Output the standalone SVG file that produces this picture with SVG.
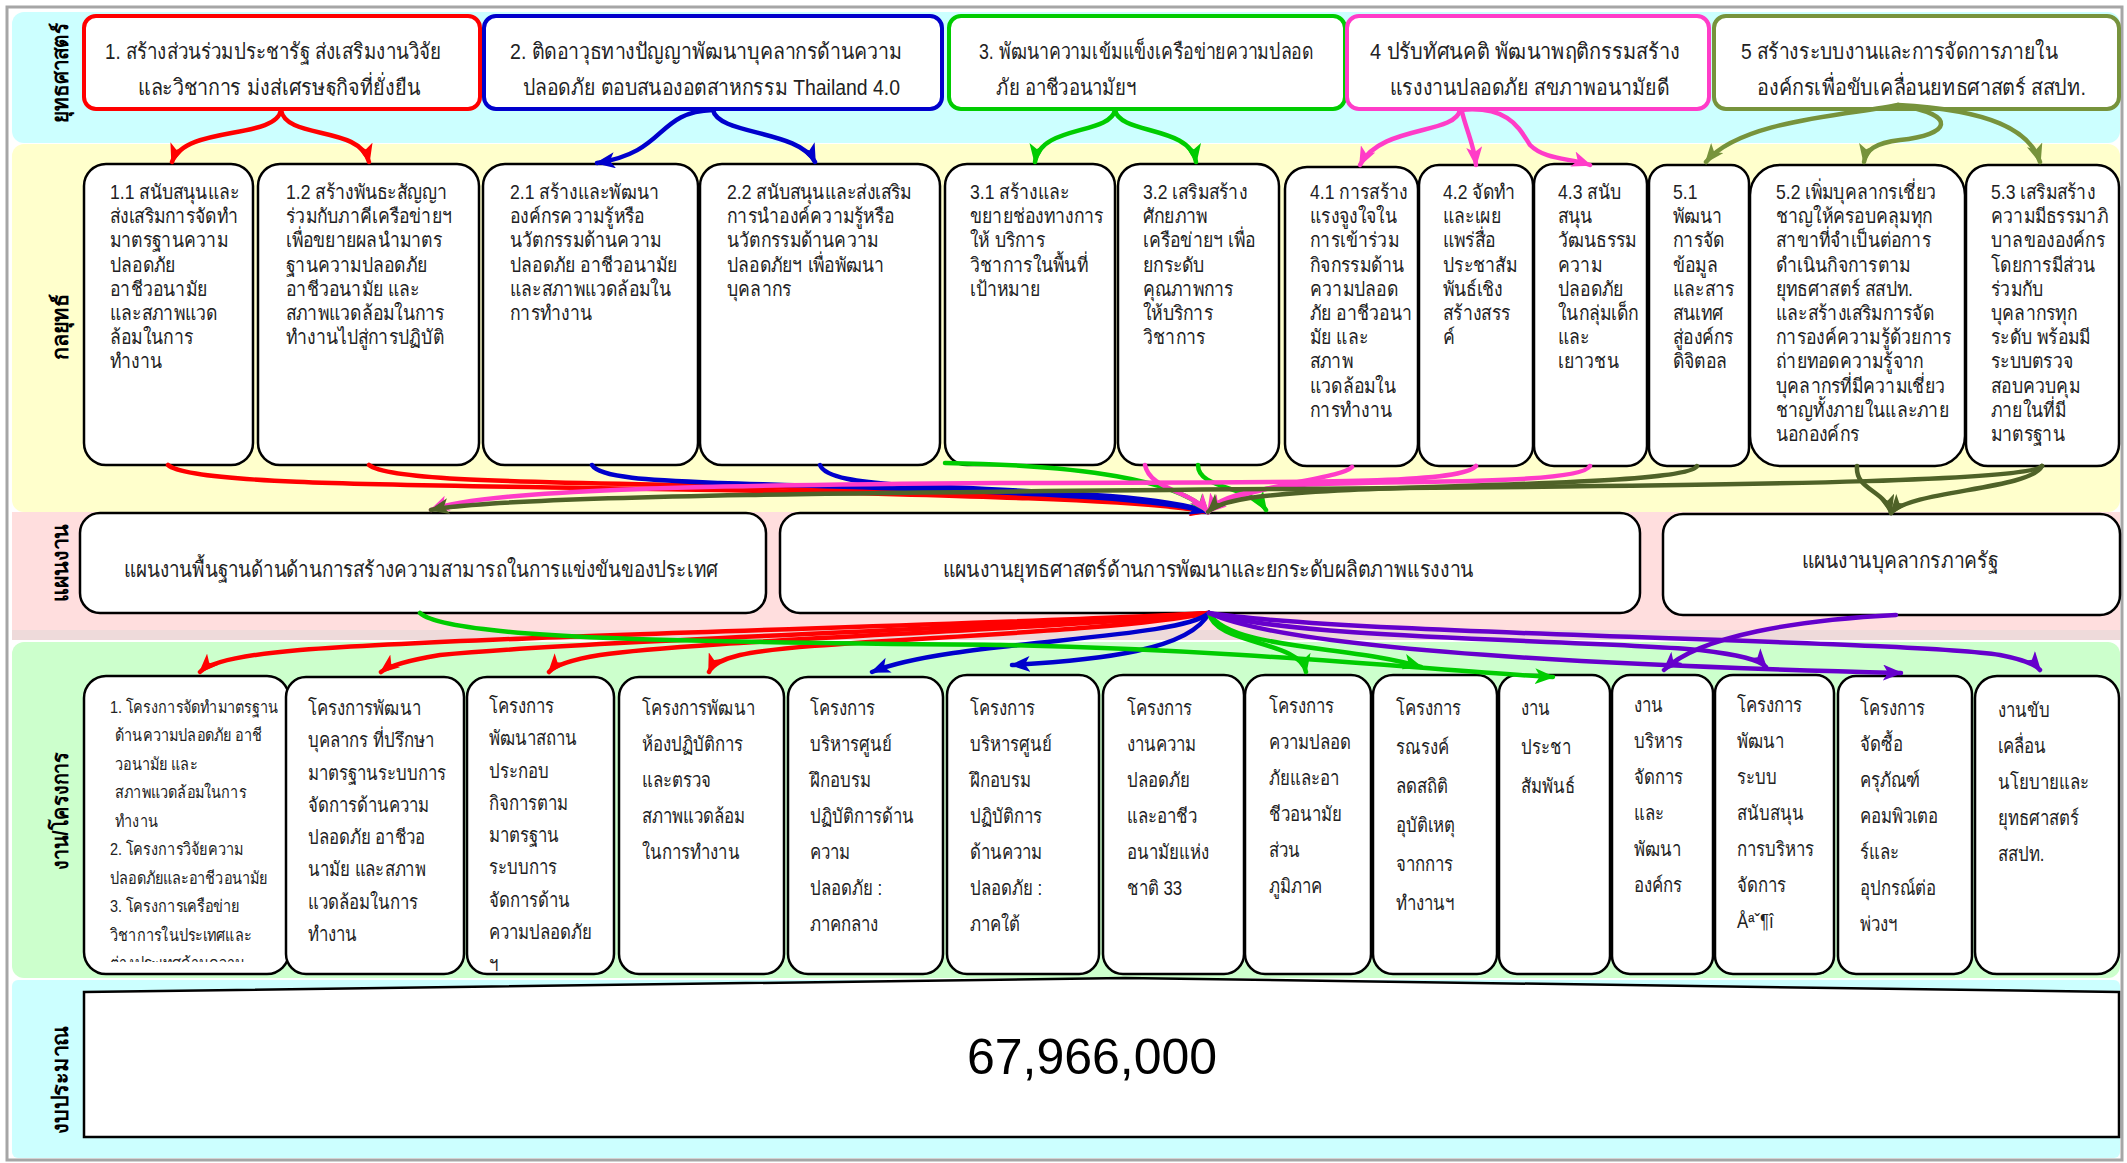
<svg xmlns="http://www.w3.org/2000/svg" width="2127" height="1163" viewBox="0 0 2127 1163">
<style>
text{font-family:"Liberation Sans",sans-serif;fill:#222}
.lbl{font-size:22px;font-weight:bold;fill:#000}
.st{font-size:22px}
.gs{font-size:20px}
.pl{font-size:22px}
.pj{font-size:20px}
.p1{font-size:17px}
.box{fill:#fff;stroke:#000;stroke-width:2.5}
.c{fill:none;stroke-width:4.5;stroke-linecap:round}
.r{stroke:#FF0000}.b{stroke:#0000CC}.g{stroke:#00CC00}.k{stroke:#FF3CC8}.o{stroke:#77933C}.d{stroke:#4F6228}.v{stroke:#6600CC}
</style>
<defs>
<marker id="mr" markerUnits="userSpaceOnUse" markerWidth="20" markerHeight="16" refX="18" refY="8" orient="auto"><path d="M0,0 L20,8 L0,16 L5,8 z" fill="#FF0000"/></marker>
<marker id="mb" markerUnits="userSpaceOnUse" markerWidth="20" markerHeight="16" refX="18" refY="8" orient="auto"><path d="M0,0 L20,8 L0,16 L5,8 z" fill="#0000CC"/></marker>
<marker id="mg" markerUnits="userSpaceOnUse" markerWidth="20" markerHeight="16" refX="18" refY="8" orient="auto"><path d="M0,0 L20,8 L0,16 L5,8 z" fill="#00CC00"/></marker>
<marker id="mk" markerUnits="userSpaceOnUse" markerWidth="20" markerHeight="16" refX="18" refY="8" orient="auto"><path d="M0,0 L20,8 L0,16 L5,8 z" fill="#FF3CC8"/></marker>
<marker id="mo" markerUnits="userSpaceOnUse" markerWidth="20" markerHeight="16" refX="18" refY="8" orient="auto"><path d="M0,0 L20,8 L0,16 L5,8 z" fill="#77933C"/></marker>
<marker id="md" markerUnits="userSpaceOnUse" markerWidth="20" markerHeight="16" refX="18" refY="8" orient="auto"><path d="M0,0 L20,8 L0,16 L5,8 z" fill="#4F6228"/></marker>
<marker id="mv" markerUnits="userSpaceOnUse" markerWidth="20" markerHeight="16" refX="18" refY="8" orient="auto"><path d="M0,0 L20,8 L0,16 L5,8 z" fill="#6600CC"/></marker>
<clipPath id="cs"><rect x="80" y="14" width="2045" height="82"/></clipPath>
<clipPath id="cp1"><rect x="84" y="676" width="205" height="286"/></clipPath>
</defs>

<!-- frame and bands -->
<rect x="7" y="7" width="2115" height="1153" fill="#fff" stroke="#A6A6A6" stroke-width="3"/>
<rect x="12" y="12" width="2108" height="131" rx="12" fill="#CCFFFF"/>
<rect x="12" y="144" width="2108" height="368" rx="12" fill="#FFFFCC"/>
<rect x="12" y="512" width="2108" height="128" fill="#FFDEDE"/>
<rect x="12" y="630" width="2108" height="10" fill="#EEDADA"/>
<rect x="12" y="642" width="2108" height="336" rx="12" fill="#CCFFCC"/>
<rect x="12" y="980" width="2108" height="178" rx="6" fill="#CCFFFF"/>

<!-- row labels -->
<g id="labels">
<text class="lbl" transform="translate(68,73) rotate(-90)" text-anchor="middle" textLength="100" lengthAdjust="spacingAndGlyphs">ยุทธศาสตร์</text>
<text class="lbl" transform="translate(68,327) rotate(-90)" text-anchor="middle" textLength="66" lengthAdjust="spacingAndGlyphs">กลยุทธ์</text>
<text class="lbl" transform="translate(68,563) rotate(-90)" text-anchor="middle" textLength="78" lengthAdjust="spacingAndGlyphs">แผนงาน</text>
<text class="lbl" transform="translate(68,811) rotate(-90)" text-anchor="middle" textLength="118" lengthAdjust="spacingAndGlyphs">งาน/โครงการ</text>
<text class="lbl" transform="translate(68,1080) rotate(-90)" text-anchor="middle" textLength="108" lengthAdjust="spacingAndGlyphs">งบประมาณ</text>
</g>

<!-- strategies -->
<g id="strategy1"><rect x="84" y="16" width="396" height="93" rx="12" fill="#fff" stroke="#FF0000" stroke-width="4"/>
<g clip-path="url(#cs)"><text class="st" x="105" y="59" textLength="336" lengthAdjust="spacingAndGlyphs">1. สร้างส่วนร่วมประชารัฐ ส่งเสริมงานวิจัย</text><text class="st" x="138" y="95" textLength="282" lengthAdjust="spacingAndGlyphs">และวิชาการ มุ่งสู่เศรษฐกิจที่ยั่งยืน</text></g></g>
<g id="strategy2"><rect x="484" y="16" width="458" height="93" rx="12" fill="#fff" stroke="#0000CC" stroke-width="4"/>
<g clip-path="url(#cs)"><text class="st" x="510" y="59" textLength="392" lengthAdjust="spacingAndGlyphs">2. ติดอาวุธทางปัญญาพัฒนาบุคลากรด้านความ</text><text class="st" x="523" y="95" textLength="377" lengthAdjust="spacingAndGlyphs">ปลอดภัย ตอบสนองอุตสาหกรรม Thailand 4.0</text></g></g>
<g id="strategy3"><rect x="949" y="16" width="396" height="93" rx="12" fill="#fff" stroke="#00CC00" stroke-width="4"/>
<g clip-path="url(#cs)"><text class="st" x="979" y="59" textLength="334" lengthAdjust="spacingAndGlyphs">3. พัฒนาความเข้มแข็งเครือข่ายความปลอด</text><text class="st" x="996" y="95" textLength="140" lengthAdjust="spacingAndGlyphs">ภัย อาชีวอนามัยฯ</text></g></g>
<g id="strategy4"><rect x="1347" y="16" width="362" height="93" rx="12" fill="#fff" stroke="#FF3CC8" stroke-width="4"/>
<g clip-path="url(#cs)"><text class="st" x="1370" y="59" textLength="310" lengthAdjust="spacingAndGlyphs">4 ปรับทัศนคติ พัฒนาพฤติกรรมสร้าง</text><text class="st" x="1390" y="95" textLength="279" lengthAdjust="spacingAndGlyphs">แรงงานปลอดภัย สุขภาพอนามัยดี</text></g></g>
<g id="strategy5"><rect x="1714" y="16" width="405" height="93" rx="12" fill="#fff" stroke="#77933C" stroke-width="4"/>
<g clip-path="url(#cs)"><text class="st" x="1741" y="59" textLength="317" lengthAdjust="spacingAndGlyphs">5 สร้างระบบงานและการจัดการภายใน</text><text class="st" x="1757" y="95" textLength="329" lengthAdjust="spacingAndGlyphs">องค์กรเพื่อขับเคลื่อนยุทธศาสตร์ สสปท.</text></g></g>

<!-- tactics -->
<g id="tactic11"><rect class="box" x="84" y="164" width="169" height="301" rx="22"/>
<text class="gs" transform="translate(110,0) scale(0.88,1)"><tspan x="0" y="199">1.1 สนับสนุนและ</tspan><tspan x="0" dy="24.2">ส่งเสริมการจัดทำ</tspan><tspan x="0" dy="24.2">มาตรฐานความ</tspan><tspan x="0" dy="24.2">ปลอดภัย</tspan><tspan x="0" dy="24.2">อาชีวอนามัย</tspan><tspan x="0" dy="24.2">และสภาพแวด</tspan><tspan x="0" dy="24.2">ล้อมในการ</tspan><tspan x="0" dy="24.2">ทำงาน</tspan></text></g>
<g id="tactic12"><rect class="box" x="258" y="164" width="221" height="301" rx="22"/>
<text class="gs" transform="translate(286,0) scale(0.88,1)"><tspan x="0" y="199">1.2 สร้างพันธะสัญญา</tspan><tspan x="0" dy="24.2">ร่วมกับภาคีเครือข่ายฯ</tspan><tspan x="0" dy="24.2">เพื่อขยายผลนำมาตร</tspan><tspan x="0" dy="24.2">ฐานความปลอดภัย</tspan><tspan x="0" dy="24.2">อาชีวอนามัย และ</tspan><tspan x="0" dy="24.2">สภาพแวดล้อมในการ</tspan><tspan x="0" dy="24.2">ทำงานไปสู่การปฏิบัติ</tspan></text></g>
<g id="tactic21"><rect class="box" x="483" y="164" width="215" height="301" rx="22"/>
<text class="gs" transform="translate(510,0) scale(0.88,1)"><tspan x="0" y="199">2.1 สร้างและพัฒนา</tspan><tspan x="0" dy="24.2">องค์กรความรู้หรือ</tspan><tspan x="0" dy="24.2">นวัตกรรมด้านความ</tspan><tspan x="0" dy="24.2">ปลอดภัย อาชีวอนามัย</tspan><tspan x="0" dy="24.2">และสภาพแวดล้อมใน</tspan><tspan x="0" dy="24.2">การทำงาน</tspan></text></g>
<g id="tactic22"><rect class="box" x="700" y="164" width="240" height="301" rx="22"/>
<text class="gs" transform="translate(727,0) scale(0.88,1)"><tspan x="0" y="199">2.2 สนับสนุนและส่งเสริม</tspan><tspan x="0" dy="24.2">การนำองค์ความรู้หรือ</tspan><tspan x="0" dy="24.2">นวัตกรรมด้านความ</tspan><tspan x="0" dy="24.2">ปลอดภัยฯ เพื่อพัฒนา</tspan><tspan x="0" dy="24.2">บุคลากร</tspan></text></g>
<g id="tactic31"><rect class="box" x="945" y="164" width="170" height="301" rx="22"/>
<text class="gs" transform="translate(970,0) scale(0.88,1)"><tspan x="0" y="199">3.1 สร้างและ</tspan><tspan x="0" dy="24.2">ขยายช่องทางการ</tspan><tspan x="0" dy="24.2">ให้ บริการ</tspan><tspan x="0" dy="24.2">วิชาการในพื้นที่</tspan><tspan x="0" dy="24.2">เป้าหมาย</tspan></text></g>
<g id="tactic32"><rect class="box" x="1118" y="164" width="161" height="301" rx="22"/>
<text class="gs" transform="translate(1143,0) scale(0.88,1)"><tspan x="0" y="199">3.2 เสริมสร้าง</tspan><tspan x="0" dy="24.2">ศักยภาพ</tspan><tspan x="0" dy="24.2">เครือข่ายฯ เพื่อ</tspan><tspan x="0" dy="24.2">ยกระดับ</tspan><tspan x="0" dy="24.2">คุณภาพการ</tspan><tspan x="0" dy="24.2">ให้บริการ</tspan><tspan x="0" dy="24.2">วิชาการ</tspan></text></g>
<g id="tactic41"><rect class="box" x="1285" y="167" width="133" height="299" rx="22"/>
<text class="gs" transform="translate(1310,0) scale(0.88,1)"><tspan x="0" y="199">4.1 การสร้าง</tspan><tspan x="0" dy="24.2">แรงจูงใจใน</tspan><tspan x="0" dy="24.2">การเข้าร่วม</tspan><tspan x="0" dy="24.2">กิจกรรมด้าน</tspan><tspan x="0" dy="24.2">ความปลอด</tspan><tspan x="0" dy="24.2">ภัย อาชีวอนา</tspan><tspan x="0" dy="24.2">มัย และ</tspan><tspan x="0" dy="24.2">สภาพ</tspan><tspan x="0" dy="24.2">แวดล้อมใน</tspan><tspan x="0" dy="24.2">การทำงาน</tspan></text></g>
<g id="tactic42"><rect class="box" x="1419" y="165" width="114" height="301" rx="20"/>
<text class="gs" transform="translate(1443,0) scale(0.88,1)"><tspan x="0" y="199">4.2 จัดทำ</tspan><tspan x="0" dy="24.2">และเผย</tspan><tspan x="0" dy="24.2">แพร่สื่อ</tspan><tspan x="0" dy="24.2">ประชาสัม</tspan><tspan x="0" dy="24.2">พันธ์เชิง</tspan><tspan x="0" dy="24.2">สร้างสรร</tspan><tspan x="0" dy="24.2">ค์</tspan></text></g>
<g id="tactic43"><rect class="box" x="1534" y="164" width="113" height="302" rx="20"/>
<text class="gs" transform="translate(1558,0) scale(0.88,1)"><tspan x="0" y="199">4.3 สนับ</tspan><tspan x="0" dy="24.2">สนุน</tspan><tspan x="0" dy="24.2">วัฒนธรรม</tspan><tspan x="0" dy="24.2">ความ</tspan><tspan x="0" dy="24.2">ปลอดภัย</tspan><tspan x="0" dy="24.2">ในกลุ่มเด็ก</tspan><tspan x="0" dy="24.2">และ</tspan><tspan x="0" dy="24.2">เยาวชน</tspan></text></g>
<g id="tactic51"><rect class="box" x="1649" y="165" width="100" height="301" rx="18"/>
<text class="gs" transform="translate(1673,0) scale(0.88,1)"><tspan x="0" y="199">5.1</tspan><tspan x="0" dy="24.2">พัฒนา</tspan><tspan x="0" dy="24.2">การจัด</tspan><tspan x="0" dy="24.2">ข้อมูล</tspan><tspan x="0" dy="24.2">และสาร</tspan><tspan x="0" dy="24.2">สนเทศ</tspan><tspan x="0" dy="24.2">สู่องค์กร</tspan><tspan x="0" dy="24.2">ดิจิตอล</tspan></text></g>
<g id="tactic52"><rect class="box" x="1750" y="165" width="215" height="301" rx="30"/>
<text class="gs" transform="translate(1776,0) scale(0.88,1)"><tspan x="0" y="199">5.2 เพิ่มบุคลากรเชี่ยว</tspan><tspan x="0" dy="24.2">ชาญให้ครอบคลุมทุก</tspan><tspan x="0" dy="24.2">สาขาที่จำเป็นต่อการ</tspan><tspan x="0" dy="24.2">ดำเนินกิจการตาม</tspan><tspan x="0" dy="24.2">ยุทธศาสตร์ สสปท.</tspan><tspan x="0" dy="24.2">และสร้างเสริมการจัด</tspan><tspan x="0" dy="24.2">การองค์ความรู้ด้วยการ</tspan><tspan x="0" dy="24.2">ถ่ายทอดความรู้จาก</tspan><tspan x="0" dy="24.2">บุคลากรที่มีความเชี่ยว</tspan><tspan x="0" dy="24.2">ชาญทั้งภายในและภาย</tspan><tspan x="0" dy="24.2">นอกองค์กร</tspan></text></g>
<g id="tactic53"><rect class="box" x="1966" y="165" width="153" height="301" rx="22"/>
<text class="gs" transform="translate(1991,0) scale(0.88,1)"><tspan x="0" y="199">5.3 เสริมสร้าง</tspan><tspan x="0" dy="24.2">ความมีธรรมาภิ</tspan><tspan x="0" dy="24.2">บาลขององค์กร</tspan><tspan x="0" dy="24.2">โดยการมีส่วน</tspan><tspan x="0" dy="24.2">ร่วมกับ</tspan><tspan x="0" dy="24.2">บุคลากรทุก</tspan><tspan x="0" dy="24.2">ระดับ พร้อมมี</tspan><tspan x="0" dy="24.2">ระบบตรวจ</tspan><tspan x="0" dy="24.2">สอบควบคุม</tspan><tspan x="0" dy="24.2">ภายในที่มี</tspan><tspan x="0" dy="24.2">มาตรฐาน</tspan></text></g>

<!-- plans -->
<g id="planA"><rect class="box" x="80" y="513" width="686" height="100" rx="20"/><text class="pl" x="421" y="577" text-anchor="middle" textLength="595" lengthAdjust="spacingAndGlyphs">แผนงานพื้นฐานด้านด้านการสร้างความสามารถในการแข่งขันของประเทศ</text></g>
<g id="planB"><rect class="box" x="780" y="513" width="860" height="100" rx="20"/><text class="pl" x="1208" y="577" text-anchor="middle" textLength="531" lengthAdjust="spacingAndGlyphs">แผนงานยุทธศาสตร์ด้านการพัฒนาและยกระดับผลิตภาพแรงงาน</text></g>
<g id="planC"><rect class="box" x="1663" y="514" width="457" height="101" rx="20"/><text class="pl" x="1900" y="568" text-anchor="middle" textLength="197" lengthAdjust="spacingAndGlyphs">แผนงานบุคลากรภาครัฐ</text></g>

<!-- projects -->
<g id="proj1"><rect class="box" x="84" y="676" width="205" height="298" rx="22"/>
<g clip-path="url(#cp1)"><text class="p1" transform="translate(110,0) scale(0.85,1)"><tspan x="0" y="713">1. โครงการจัดทำมาตรฐาน</tspan><tspan x="6" dy="28.5">ด้านความปลอดภัย อาชี</tspan><tspan x="6" dy="28.5">วอนามัย และ</tspan><tspan x="6" dy="28.5">สภาพแวดล้อมในการ</tspan><tspan x="6" dy="28.5">ทำงาน</tspan><tspan x="0" dy="28.5">2. โครงการวิจัยความ</tspan><tspan x="0" dy="28.5">ปลอดภัยและอาชีวอนามัย</tspan><tspan x="0" dy="28.5">3. โครงการเครือข่าย</tspan><tspan x="0" dy="28.5">วิชาการในประเทศและ</tspan><tspan x="0" dy="28.5">ต่างประเทศด้านความ</tspan></text></g></g>
<g id="proj2"><rect class="box" x="286" y="677" width="178" height="297" rx="20"/>
<text class="pj" transform="translate(308,0) scale(0.84,1)"><tspan x="0" y="715">โครงการพัฒนา</tspan><tspan x="0" dy="32.3">บุคลากร ที่ปรึกษา</tspan><tspan x="0" dy="32.3">มาตรฐานระบบการ</tspan><tspan x="0" dy="32.3">จัดการด้านความ</tspan><tspan x="0" dy="32.3">ปลอดภัย อาชีวอ</tspan><tspan x="0" dy="32.3">นามัย และสภาพ</tspan><tspan x="0" dy="32.3">แวดล้อมในการ</tspan><tspan x="0" dy="32.3">ทำงาน</tspan></text></g>
<g id="proj3"><rect class="box" x="467" y="677" width="147" height="297" rx="20"/>
<text class="pj" transform="translate(489,0) scale(0.84,1)"><tspan x="0" y="713">โครงการ</tspan><tspan x="0" dy="32.3">พัฒนาสถาน</tspan><tspan x="0" dy="32.3">ประกอบ</tspan><tspan x="0" dy="32.3">กิจการตาม</tspan><tspan x="0" dy="32.3">มาตรฐาน</tspan><tspan x="0" dy="32.3">ระบบการ</tspan><tspan x="0" dy="32.3">จัดการด้าน</tspan><tspan x="0" dy="32.3">ความปลอดภัย</tspan><tspan x="0" dy="32.3">ฯ</tspan></text></g>
<g id="proj4"><rect class="box" x="619" y="677" width="165" height="297" rx="20"/>
<text class="pj" transform="translate(642,0) scale(0.84,1)"><tspan x="0" y="715">โครงการพัฒนา</tspan><tspan x="0" dy="36">ห้องปฏิบัติการ</tspan><tspan x="0" dy="36">และตรวจ</tspan><tspan x="0" dy="36">สภาพแวดล้อม</tspan><tspan x="0" dy="36">ในการทำงาน</tspan></text></g>
<g id="proj5"><rect class="box" x="788" y="677" width="155" height="297" rx="20"/>
<text class="pj" transform="translate(810,0) scale(0.84,1)"><tspan x="0" y="715">โครงการ</tspan><tspan x="0" dy="36">บริหารศูนย์</tspan><tspan x="0" dy="36">ฝึกอบรม</tspan><tspan x="0" dy="36">ปฏิบัติการด้าน</tspan><tspan x="0" dy="36">ความ</tspan><tspan x="0" dy="36">ปลอดภัย  :</tspan><tspan x="0" dy="36">ภาคกลาง</tspan></text></g>
<g id="proj6"><rect class="box" x="947" y="675" width="152" height="299" rx="20"/>
<text class="pj" transform="translate(970,0) scale(0.84,1)"><tspan x="0" y="715">โครงการ</tspan><tspan x="0" dy="36">บริหารศูนย์</tspan><tspan x="0" dy="36">ฝึกอบรม</tspan><tspan x="0" dy="36">ปฏิบัติการ</tspan><tspan x="0" dy="36">ด้านความ</tspan><tspan x="0" dy="36">ปลอดภัย :</tspan><tspan x="0" dy="36">ภาคใต้</tspan></text></g>
<g id="proj7"><rect class="box" x="1103" y="675" width="141" height="299" rx="20"/>
<text class="pj" transform="translate(1127,0) scale(0.84,1)"><tspan x="0" y="715">โครงการ</tspan><tspan x="0" dy="36">งานความ</tspan><tspan x="0" dy="36">ปลอดภัย</tspan><tspan x="0" dy="36">และอาชีว</tspan><tspan x="0" dy="36">อนามัยแห่ง</tspan><tspan x="0" dy="36">ชาติ 33</tspan></text></g>
<g id="proj8"><rect class="box" x="1245" y="675" width="126" height="299" rx="20"/>
<text class="pj" transform="translate(1269,0) scale(0.84,1)"><tspan x="0" y="713">โครงการ</tspan><tspan x="0" dy="36">ความปลอด</tspan><tspan x="0" dy="36">ภัยและอา</tspan><tspan x="0" dy="36">ชีวอนามัย</tspan><tspan x="0" dy="36">ส่วน</tspan><tspan x="0" dy="36">ภูมิภาค</tspan></text></g>
<g id="proj9"><rect class="box" x="1373" y="675" width="124" height="299" rx="20"/>
<text class="pj" transform="translate(1396,0) scale(0.84,1)"><tspan x="0" y="715">โครงการ</tspan><tspan x="0" dy="39">รณรงค์</tspan><tspan x="0" dy="39">ลดสถิติ</tspan><tspan x="0" dy="39">อุบัติเหตุ</tspan><tspan x="0" dy="39">จากการ</tspan><tspan x="0" dy="39">ทำงานฯ</tspan></text></g>
<g id="proj10"><rect class="box" x="1499" y="675" width="111" height="299" rx="18"/>
<text class="pj" transform="translate(1521,0) scale(0.84,1)"><tspan x="0" y="715">งาน</tspan><tspan x="0" dy="39">ประชา</tspan><tspan x="0" dy="39">สัมพันธ์</tspan></text></g>
<g id="proj11"><rect class="box" x="1612" y="675" width="101" height="299" rx="18"/>
<text class="pj" transform="translate(1634,0) scale(0.84,1)"><tspan x="0" y="712">งาน</tspan><tspan x="0" dy="36">บริหาร</tspan><tspan x="0" dy="36">จัดการ</tspan><tspan x="0" dy="36">และ</tspan><tspan x="0" dy="36">พัฒนา</tspan><tspan x="0" dy="36">องค์กร</tspan></text></g>
<g id="proj12"><rect class="box" x="1715" y="675" width="119" height="299" rx="18"/>
<text class="pj" transform="translate(1737,0) scale(0.84,1)"><tspan x="0" y="712">โครงการ</tspan><tspan x="0" dy="36">พัฒนา</tspan><tspan x="0" dy="36">ระบบ</tspan><tspan x="0" dy="36">สนับสนุน</tspan><tspan x="0" dy="36">การบริหาร</tspan><tspan x="0" dy="36">จัดการ</tspan><tspan x="0" dy="36">Åªˇ¶î</tspan></text></g>
<g id="proj13"><rect class="box" x="1838" y="676" width="134" height="298" rx="18"/>
<text class="pj" transform="translate(1860,0) scale(0.84,1)"><tspan x="0" y="715">โครงการ</tspan><tspan x="0" dy="36">จัดซื้อ</tspan><tspan x="0" dy="36">ครุภัณฑ์</tspan><tspan x="0" dy="36">คอมพิวเตอ</tspan><tspan x="0" dy="36">ร์และ</tspan><tspan x="0" dy="36">อุปกรณ์ต่อ</tspan><tspan x="0" dy="36">พ่วงฯ</tspan></text></g>
<g id="proj14"><rect class="box" x="1975" y="676" width="144" height="298" rx="22"/>
<text class="pj" transform="translate(1998,0) scale(0.84,1)"><tspan x="0" y="717">งานขับ</tspan><tspan x="0" dy="36">เคลื่อน</tspan><tspan x="0" dy="36">นโยบายและ</tspan><tspan x="0" dy="36">ยุทธศาสตร์</tspan><tspan x="0" dy="36">สสปท.</tspan></text></g>

<!-- budget -->
<g id="budget"><path d="M84,992 L1125,978 L2119,992 L2119,1137 L84,1137 Z" fill="#fff" stroke="#000" stroke-width="2.5"/>
<text x="1092" y="1074" text-anchor="middle" style="font-size:50px;fill:#000">67,966,000</text></g>

<!-- connectors -->
<g id="connectors">
<path class="c r" d="M281,110 C276,140 185,125 172,162" marker-end="url(#mr)"/>
<path class="c r" d="M281,110 C286,140 360,125 369,162" marker-end="url(#mr)"/>
<path class="c b" d="M713,110 C655,112 668,152 597,163" marker-end="url(#mb)"/>
<path class="c b" d="M713,110 C718,135 800,130 815,162" marker-end="url(#mb)"/>
<path class="c g" d="M1115,110 C1110,135 1040,125 1035,162" marker-end="url(#mg)"/>
<path class="c g" d="M1115,110 C1120,135 1190,125 1196,162" marker-end="url(#mg)"/>
<path class="c k" d="M1460,110 C1455,135 1380,125 1360,165" marker-end="url(#mk)"/>
<path class="c k" d="M1462,112 C1468,135 1474,145 1476,165" marker-end="url(#mk)"/>
<path class="c k" d="M1460,110 C1510,105 1520,130 1530,145 C1545,160 1570,158 1590,165" marker-end="url(#mk)"/>
<path class="c o" d="M1898,105 C1850,115 1740,120 1706,162" marker-end="url(#mo)"/>
<path class="c o" d="M1898,105 C1960,115 1950,135 1900,140 C1875,143 1866,150 1864,162" marker-end="url(#mo)"/>
<path class="c o" d="M1898,105 C1990,110 2030,130 2040,162" marker-end="url(#mo)"/>

<path class="c r" d="M168,465 C190,485 400,485 720,490 C950,495 1150,500 1208,512" marker-end="url(#mr)"/>
<path class="c r" d="M369,465 C390,482 550,482 720,486 C950,492 1150,498 1208,512" marker-end="url(#mr)"/>
<path class="c b" d="M592,465 C600,478 650,480 720,483 C950,490 1150,495 1208,512" marker-end="url(#mb)"/>
<path class="c b" d="M820,465 C825,478 860,482 900,485 C1050,492 1160,495 1208,512" marker-end="url(#mb)"/>
<path class="c g" d="M945,463 C1080,465 1180,480 1208,512" marker-end="url(#mg)"/>
<path class="c g" d="M1198,465 C1198,490 1250,485 1266,510" marker-end="url(#mg)"/>
<path class="c k" d="M1145,465 C1150,490 1190,490 1208,512" marker-end="url(#mk)"/>
<path class="c k" d="M1352,467 C1340,480 1240,485 1208,512" marker-end="url(#mk)"/>
<path class="c k" d="M1476,466 C1460,485 1300,482 1000,483 C700,485 480,490 431,510" marker-end="url(#mk)"/>
<path class="c k" d="M1590,466 C1580,485 1400,480 1300,485 C1240,490 1215,500 1208,512" marker-end="url(#mk)"/>
<path class="c d" d="M1697,466 C1690,482 1500,484 1350,490 C1260,494 1220,500 1208,512" marker-end="url(#md)"/>
<path class="c d" d="M2042,466 C2030,480 1800,485 1400,488 C900,492 500,495 431,510" marker-end="url(#md)"/>
<path class="c d" d="M1857,466 C1855,490 1885,490 1891,513" marker-end="url(#md)"/>
<path class="c d" d="M2042,466 C2030,490 1910,490 1891,513" marker-end="url(#md)"/>

<path class="c r" d="M1209,613 C1000,625 500,635 300,650 C240,655 210,662 200,672" marker-end="url(#mr)"/>
<path class="c r" d="M1209,613 C1000,628 600,640 440,655 C410,660 390,665 381,672" marker-end="url(#mr)"/>
<path class="c r" d="M1209,613 C1050,630 700,640 600,655 C570,660 555,665 549,672" marker-end="url(#mr)"/>
<path class="c r" d="M1209,613 C1100,635 800,640 740,655 C720,660 712,665 709,672" marker-end="url(#mr)"/>
<path class="c b" d="M1209,613 C1180,640 950,640 872,672" marker-end="url(#mb)"/>
<path class="c b" d="M1209,613 C1190,650 1100,660 1012,665" marker-end="url(#mb)"/>
<path class="c g" d="M1209,613 C1215,645 1300,640 1306,672" marker-end="url(#mg)"/>
<path class="c g" d="M1209,613 C1230,650 1350,645 1421,667" marker-end="url(#mg)"/>
<path class="c g" d="M420,613 C450,640 700,642 1000,645 C1250,650 1450,672 1553,677" marker-end="url(#mg)"/>
<path class="c v" d="M1896,615 C1800,620 1700,635 1664,670" marker-end="url(#mv)"/>
<path class="c v" d="M1209,613 C1300,640 1600,640 1700,650 C1740,655 1760,660 1766,667" marker-end="url(#mv)"/>
<path class="c v" d="M1209,613 C1300,655 1700,668 1901,673" marker-end="url(#mv)"/>
<path class="c v" d="M1209,613 C1350,635 1900,640 2000,655 C2025,660 2036,665 2040,670" marker-end="url(#mv)"/>
</g>
</svg>
